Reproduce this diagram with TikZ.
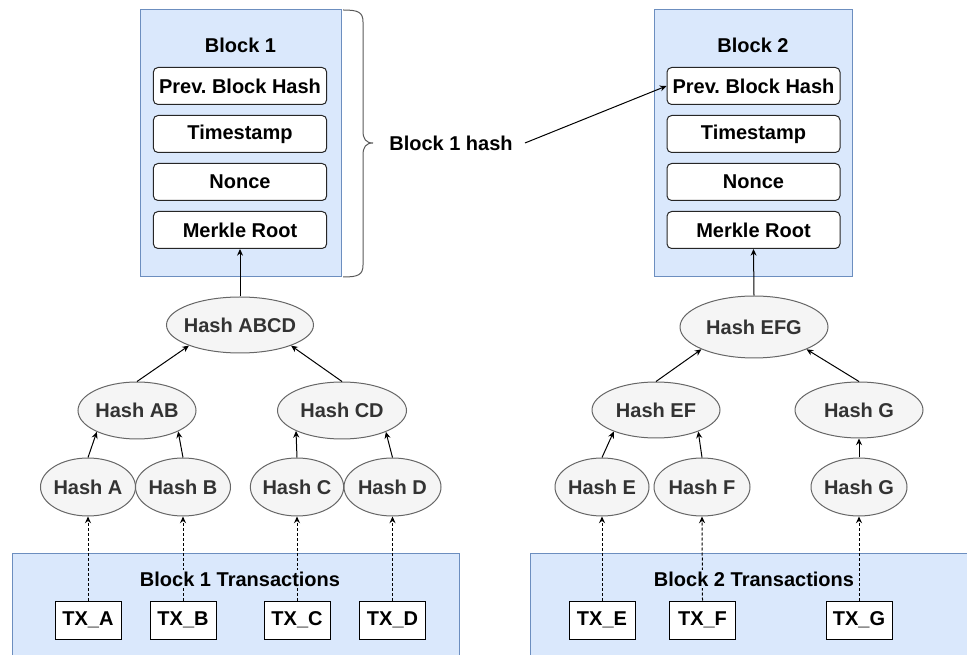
\documentclass[tikz,border=0pt]{standalone}
\usepackage{fontspec}
\setmainfont{Liberation Sans}
\usetikzlibrary{arrows.meta,shapes.geometric}

\definecolor{blkfill}{HTML}{DAE8FC}
\definecolor{blkdraw}{HTML}{6C8EBF}
\definecolor{hashfill}{HTML}{F5F5F5}
\definecolor{hashdraw}{HTML}{666666}
\definecolor{hashtext}{HTML}{333333}

% zero-width text, so an ellipse takes its size from its minimum dimensions only
\newcommand\zw[1]{\makebox[0pt]{#1}}
\frenchspacing

\begin{document}
\begin{tikzpicture}[
  x=0.75pt, y=-0.75pt,
  font=\fontsize{15}{18}\selectfont\bfseries,
  container/.style={draw=blkdraw, fill=blkfill, line width=0.75pt, inner sep=0pt},
  blocktitle/.style={inner sep=1pt, fill=blkfill},
  field/.style={draw=black!85, fill=white, rounded corners=3.5pt, line width=0.75pt,
                minimum width=130pt, minimum height=27.75pt, inner sep=0pt},
  hashnode/.style={ellipse, draw=hashdraw, fill=hashfill, text=hashtext,
                   line width=0.75pt, inner sep=0pt},
  txbox/.style={draw=black, fill=white, line width=0.75pt, inner sep=0pt,
                minimum width=49.5pt, minimum height=28.5pt},
  link/.style={line width=0.75pt, -{Stealth[length=5pt,width=4.5pt]}},
  txlink/.style={link, dash pattern=on 2.25pt off 1.5pt},
  bracepath/.style={draw=black!65, line width=0.75pt},
]
\useasboundingbox (0,0) rectangle (967,655);
\clip (0,0) rectangle (967,655);

% ---- block headers ----
\node[container, minimum width=150.75pt, minimum height=200.25pt] (blk1) at (240.5,143.5) {};
\node[container, minimum width=148.5pt, minimum height=200.25pt] (blk2) at (753,143.5) {};
\node (t1) at (240.5,45) {Block 1};
\node (t2) at (753,45) {Block 2};

\node[field] (prev1) at (240,86) {Prev. Block Hash};
\node[field] (time1) at (240,134) {Timestamp};
\node[field] (nonce1) at (240,182) {Nonce};
\node[field] (root1) at (240,230) {Merkle Root};

\node[field, minimum width=129.75pt] (prev2) at (753.5,86) {Prev. Block Hash};
\node[field, minimum width=129.75pt] (time2) at (753.5,134) {Timestamp};
\node[field, minimum width=129.75pt] (nonce2) at (753.5,182) {Nonce};
\node[field, minimum width=129.75pt] (root2) at (753.5,230) {Merkle Root};

% ---- brace and block 1 hash ----
\path[bracepath] (343,10) .. controls (358,10) and (363,12) .. (363,22)
  -- (363,131) .. controls (363,139) and (366,143) .. (373,143)
  .. controls (366,143) and (363,147) .. (363,155)
  -- (363,265) .. controls (363,275) and (358,277) .. (343,277);
\node[inner xsep=9pt] (b1h) at (451,143) {Block 1 hash};
\draw[link] (b1h.east) -- (prev2.west);

% ---- transaction areas ----
\node[container, minimum width=335.25pt, minimum height=110.25pt] (txs1) at (235.5,626.5) {};
\node[container, minimum width=352.5pt, minimum height=110.25pt] (txs2) at (765,626.5) {};

\node[txbox] (txa) at (88,620) {TX\_A};
\node[txbox] (txb) at (183,620) {TX\_B};
\node[txbox] (txc) at (297,620) {TX\_C};
\node[txbox] (txd) at (392.5,620) {TX\_D};
\node[txbox] (txe) at (602,620) {TX\_E};
\node[txbox] (txf) at (702.5,620) {TX\_F};
\node[txbox] (txg) at (859,620) {TX\_G};

% ---- Merkle tree of block 1 ----
\node[hashnode, minimum width=110.25pt, minimum height=42pt] (habcd) at (240,325) {\zw{Hash ABCD}};
\node[hashnode, minimum width=88.5pt, minimum height=42.75pt] (hab) at (137,410.5) {\zw{Hash AB}};
\node[hashnode, minimum width=96.75pt, minimum height=42.75pt] (hcd) at (342,410.5) {\zw{Hash CD}};
\node[hashnode, minimum width=71.25pt, minimum height=43.5pt] (ha) at (88,487) {\zw{Hash A}};
\node[hashnode, minimum width=71.25pt, minimum height=43.5pt] (hb) at (183,487) {\zw{Hash B}};
\node[hashnode, minimum width=70pt, minimum height=43.5pt] (hc) at (297,487) {\zw{Hash C}};
\node[hashnode, minimum width=72.75pt, minimum height=43.5pt] (hd) at (392.5,487) {\zw{Hash D}};

% ---- Merkle tree of block 2 ----
\node[hashnode, minimum width=111pt, minimum height=46.5pt] (hefg) at (754,327) {\zw{Hash EFG}};
\node[hashnode, minimum width=96pt, minimum height=42pt] (hef) at (656,410) {\zw{Hash EF}};
\node[hashnode, minimum width=96pt, minimum height=42pt] (hg1) at (859,410) {\zw{Hash G}};
\node[hashnode, minimum width=70.5pt, minimum height=43.5pt] (he) at (602,487) {\zw{Hash E}};
\node[hashnode, minimum width=72pt, minimum height=43.5pt] (hf) at (702,487) {\zw{Hash F}};
\node[hashnode, minimum width=72pt, minimum height=43.5pt] (hg2) at (859,487) {\zw{Hash G}};

% ---- tree links ----
\draw[link] (habcd.north) -- (root1.south);
\draw[link] (hab.north) -- (habcd.202);
\draw[link] (hcd.north) -- (habcd.338);
\draw[link] (ha.north) -- (hab.208);
\draw[link] (hb.north) -- (hab.333);
\draw[link] (hc.north) -- (hcd.204);
\draw[link] (hd.north) -- (hcd.334);

\draw[link] (hefg.north) -- (root2.south);
\draw[link] (hef.north) -- (hefg.203);
\draw[link] (hg1.north) -- (hefg.337);
\draw[link] (he.north) -- (hef.207);
\draw[link] (hf.north) -- (hef.333);
\draw[link] (hg2.north) -- (hg1.south);

% ---- transactions feeding the leaves ----
\draw[txlink] (txa.north) -- (ha.south);
\draw[txlink] (txb.north) -- (hb.south);
\draw[txlink] (txc.north) -- (hc.south);
\draw[txlink] (txd.north) -- (hd.south);
\draw[txlink] (txe.north) -- (he.south);
\draw[txlink] (txf.north) -- (hf.south);
\draw[txlink] (txg.north) -- (hg2.south);

% area titles sit above the links
\node[blocktitle] (tt1) at (240,579) {Block 1 Transactions};
\node[blocktitle] (tt2) at (754,579) {Block 2 Transactions};
\end{tikzpicture}
\end{document}
